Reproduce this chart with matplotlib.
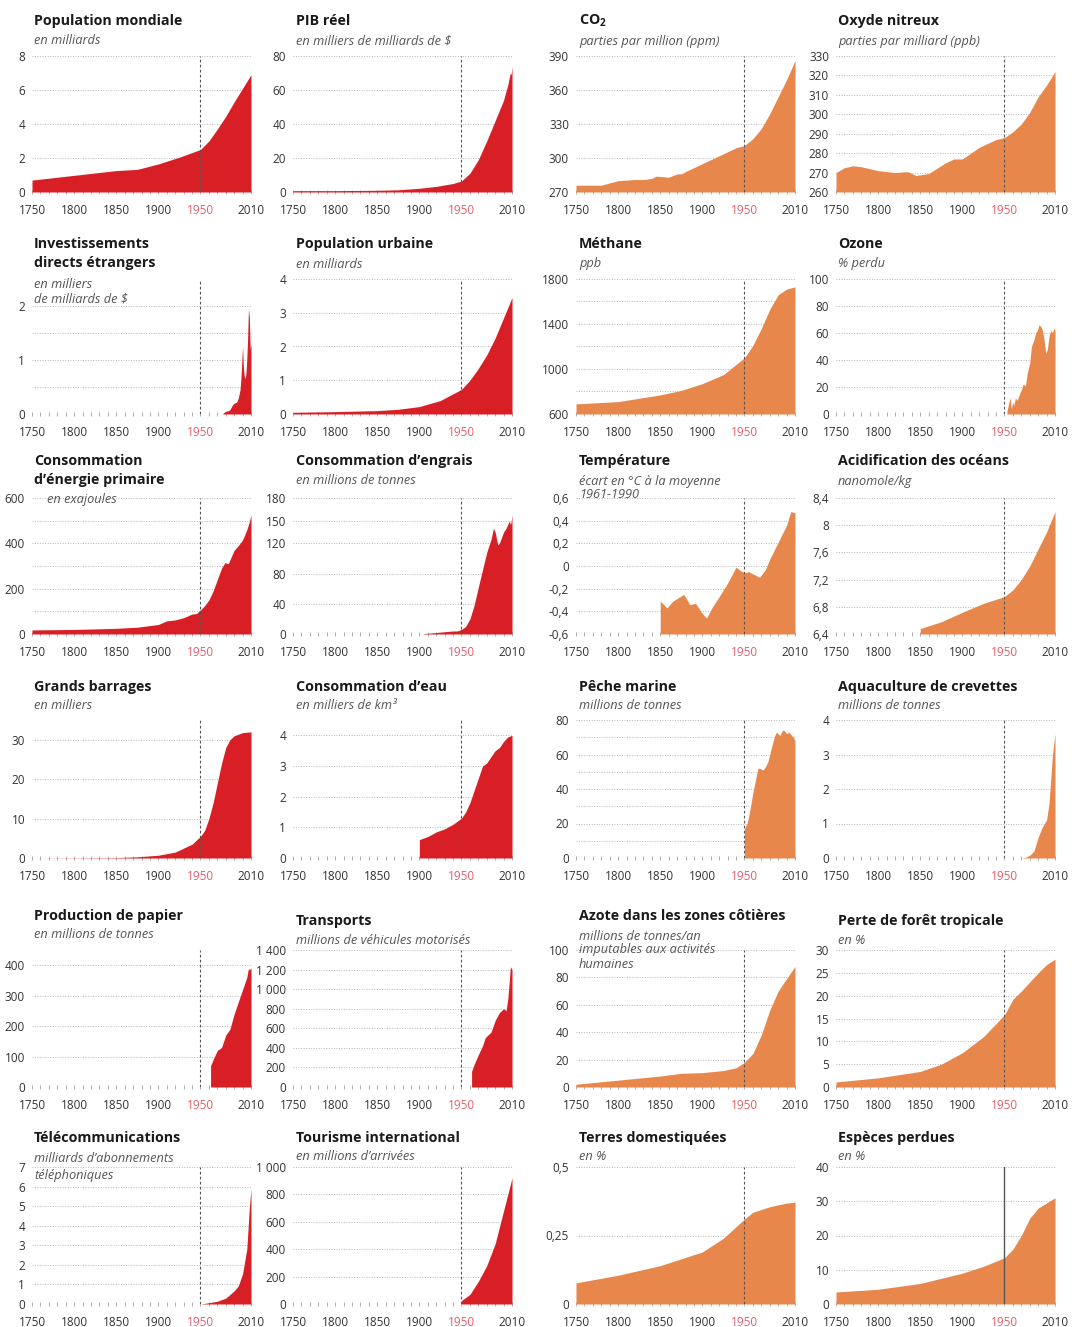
import matplotlib
matplotlib.use("Agg")
import matplotlib.pyplot as plt
import numpy as np

plt.rcParams['font.family'] = ['Open Sans', 'DejaVu Sans']
plt.rcParams['mathtext.default'] = 'regular'

W, H = 1074, 1327
RED = '#d91f26'
ORANGE = '#e8874b'

TICK_YEARS = [1750, 1800, 1850, 1900, 1950, 2010]
TICK_LABELS = ['1750', '1800', '1850', '1900', '1950', '2010']

# ---------------- data ----------------
POP_YEARS = [1750, 1800, 1850, 1875, 1900, 1925, 1950, 1960, 1970, 1980, 1990, 2000, 2010]
POP_VALUES = [0.70, 0.98, 1.26, 1.33, 1.65, 2.05, 2.50, 3.0, 3.7, 4.45, 5.3, 6.1, 6.9]

GDP_YEARS = [1750, 1800, 1850, 1875, 1900, 1920, 1940, 1950, 1960, 1970, 1980, 1990, 2000, 2005, 2008, 2009, 2010]
GDP_VALUES = [0.8, 0.8, 1.0, 1.3, 2.2, 3.3, 5.0, 6.5, 11, 19, 30, 42, 54, 63, 70, 69, 74]

CO2_YEARS = [1750, 1780, 1790, 1800, 1820, 1830, 1840, 1845, 1860, 1870, 1875, 1880, 1900, 1920, 1940, 1950, 1960, 1970, 1980, 1990, 2000, 2010]
CO2_VALUES = [276, 276, 278, 280, 281, 281, 282, 284, 283, 286, 286, 288, 295, 302, 309, 311, 317, 326, 339, 354, 369, 386]

N2O_YEARS = [1750, 1760, 1770, 1780, 1800, 1820, 1835, 1845, 1860, 1880, 1890, 1900, 1910, 1920, 1940, 1950, 1960, 1970, 1980, 1990, 2000, 2010]
N2O_VALUES = [270, 272.5, 273.5, 273, 271, 270, 270.5, 268.5, 269.5, 275, 277, 277, 280, 283, 287, 288, 291, 295, 301, 309, 315, 322]

FDI_YEARS = [1976, 1978, 1980, 1983, 1985, 1988, 1990, 1993, 1995, 1997, 1998, 2000, 2001, 2002, 2003, 2004, 2005, 2006, 2007, 2008, 2009, 2010]
FDI_VALUES = [0.0, 0.03, 0.05, 0.06, 0.08, 0.17, 0.2, 0.22, 0.3, 0.45, 0.65, 1.25, 0.85, 0.7, 0.65, 0.75, 1.0, 1.4, 1.95, 1.8, 1.2, 1.3]

URB_YEARS = [1750, 1800, 1850, 1875, 1900, 1925, 1950, 1960, 1970, 1980, 1990, 2000, 2010]
URB_VALUES = [0.05, 0.07, 0.1, 0.14, 0.22, 0.4, 0.73, 1.0, 1.35, 1.75, 2.25, 2.85, 3.45]

CH4_YEARS = [1750, 1800, 1850, 1875, 1900, 1925, 1950, 1960, 1970, 1980, 1990, 2000, 2010]
CH4_VALUES = [690, 710, 770, 810, 870, 950, 1100, 1210, 1360, 1530, 1660, 1710, 1730]

OZONE_YEARS = [1953, 1955, 1957, 1958, 1960, 1961, 1963, 1965, 1968, 1970, 1972, 1975, 1977, 1980, 1982, 1985, 1987, 1989, 1991, 1993, 1995, 1997, 1999, 2001, 2003, 2005, 2007, 2009, 2010]
OZONE_VALUES = [2, 8, 12, 4, 9, 6, 12, 10, 15, 18, 22, 21, 30, 38, 50, 55, 60, 62, 66, 65, 62, 55, 45, 48, 58, 62, 60, 64, 62]

ENERGY_YEARS = [1750, 1800, 1850, 1875, 1900, 1910, 1920, 1930, 1940, 1945, 1950, 1955, 1960, 1965, 1970, 1975, 1979, 1983, 1990, 1995, 2000, 2005, 2008, 2010]
ENERGY_VALUES = [18, 20, 25, 30, 42, 58, 62, 72, 88, 90, 106, 125, 150, 190, 240, 290, 315, 310, 370, 390, 415, 460, 495, 525]

FERT_YEARS = [1905, 1910, 1920, 1930, 1940, 1945, 1950, 1955, 1960, 1965, 1970, 1975, 1980, 1985, 1988, 1990, 1993, 1995, 2000, 2003, 2005, 2007, 2008, 2009, 2010]
FERT_VALUES = [0.5, 1, 2, 3, 4, 4, 6, 10, 20, 38, 62, 85, 108, 125, 140, 135, 118, 120, 135, 140, 145, 150, 145, 148, 158]

TEMP_YEARS = [1850, 1858, 1865, 1878, 1885, 1892, 1900, 1905, 1912, 1920, 1930, 1940, 1945, 1950, 1955, 1960, 1968, 1975, 1980, 1990, 2000, 2005, 2010]
TEMP_VALUES = [-0.31, -0.37, -0.31, -0.25, -0.34, -0.33, -0.42, -0.46, -0.36, -0.27, -0.15, -0.01, -0.04, -0.06, -0.05, -0.07, -0.10, -0.03, 0.06, 0.21, 0.36, 0.48, 0.47]

ACID_YEARS = [1850, 1875, 1900, 1925, 1950, 1960, 1970, 1980, 1990, 2000, 2010]
ACID_VALUES = [6.48, 6.58, 6.72, 6.85, 6.95, 7.05, 7.2, 7.4, 7.65, 7.9, 8.2]

DAMS_YEARS = [1750, 1850, 1875, 1900, 1920, 1930, 1940, 1950, 1955, 1960, 1965, 1970, 1975, 1980, 1985, 1990, 2000, 2010]
DAMS_VALUES = [0, 0.1, 0.3, 0.7, 1.5, 2.5, 3.5, 5.5, 7, 10, 14, 19, 24, 28, 30, 31, 31.8, 32]

WATER_YEARS = [1900, 1910, 1920, 1930, 1940, 1950, 1955, 1960, 1965, 1970, 1975, 1980, 1985, 1990, 1995, 2000, 2005, 2010]
WATER_VALUES = [0.6, 0.7, 0.85, 0.95, 1.1, 1.3, 1.5, 1.8, 2.2, 2.6, 3.0, 3.1, 3.3, 3.5, 3.6, 3.8, 3.95, 4.0]

FISH_YEARS = [1950, 1953, 1955, 1958, 1960, 1963, 1966, 1968, 1972, 1975, 1978, 1980, 1983, 1986, 1988, 1990, 1992, 1995, 1997, 2000, 2003, 2006, 2008, 2010]
FISH_VALUES = [17, 20, 24, 32, 38, 45, 52, 52, 51, 53, 56, 60, 66, 71, 73, 72, 71, 74, 74, 72, 73, 71, 70, 68]

SHRIMP_YEARS = [1970, 1975, 1980, 1985, 1990, 1995, 2000, 2003, 2005, 2007, 2010]
SHRIMP_VALUES = [0, 0.02, 0.08, 0.2, 0.6, 0.9, 1.1, 1.6, 2.3, 3.0, 3.6]

PAPER_YEARS = [1962, 1965, 1970, 1975, 1980, 1985, 1990, 1995, 2000, 2005, 2007, 2008, 2010]
PAPER_VALUES = [70, 90, 120, 130, 170, 190, 240, 280, 320, 360, 390, 385, 390]

TRANS_YEARS = [1962, 1965, 1970, 1975, 1978, 1980, 1985, 1990, 1995, 2000, 2003, 2005, 2007, 2008, 2010]
TRANS_VALUES = [160, 230, 330, 420, 500, 520, 560, 680, 760, 800, 780, 900, 1100, 1230, 1200]

NITRO_YEARS = [1750, 1800, 1850, 1875, 1900, 1925, 1940, 1950, 1960, 1970, 1980, 1990, 2000, 2010]
NITRO_VALUES = [2, 5, 8, 10, 10.5, 12, 14, 18, 24.5, 38, 56, 70, 79, 88]

FOREST_YEARS = [1750, 1800, 1850, 1875, 1900, 1925, 1950, 1960, 1970, 1980, 1990, 2000, 2010]
FOREST_VALUES = [1.1, 2.0, 3.4, 5.0, 7.5, 11, 15.8, 19.2, 21, 23, 25, 26.8, 28]

TELE_YEARS = [1950, 1955, 1970, 1980, 1990, 1995, 2000, 2005, 2008, 2010]
TELE_VALUES = [0.0, 0.03, 0.14, 0.3, 0.67, 0.93, 1.55, 2.8, 4.9, 5.9]

TOUR_YEARS = [1950, 1960, 1970, 1980, 1990, 2000, 2005, 2010]
TOUR_VALUES = [25, 70, 165, 280, 440, 680, 800, 920]

LAND_YEARS = [1750, 1800, 1850, 1900, 1925, 1950, 1960, 1970, 1980, 1990, 2000, 2010]
LAND_VALUES = [0.077, 0.105, 0.14, 0.19, 0.24, 0.31, 0.335, 0.345, 0.355, 0.362, 0.368, 0.372]

SPEC_YEARS = [1750, 1800, 1850, 1900, 1925, 1950, 1960, 1970, 1980, 1990, 2000, 2010]
SPEC_VALUES = [3.5, 4.3, 6.0, 9.0, 11, 13.5, 16, 20, 25, 28, 29.5, 31]


def lbl(vals):
    out = []
    for v in vals:
        s = f"{v:,.0f}".replace(",", "\u00a0") if abs(v) >= 1000 else f"{v:g}"
        out.append(s.replace(".", ","))
    return out

# title, subtitle lines, years, values, ylim, yticks, ytick labels, grid, colour
PANELS = [
    ("Population mondiale", ["en milliards"], POP_YEARS, POP_VALUES, (0, 8), [0, 2, 4, 6, 8], None, [0, 2, 4, 6, 8], RED),
    ("PIB réel", ["en milliers de milliards de $"], GDP_YEARS, GDP_VALUES, (0, 80), [0, 20, 40, 60, 80], None, [0, 20, 40, 60, 80], RED),
    ("CO$_2$", ["parties par million (ppm)"], CO2_YEARS, CO2_VALUES, (270, 390), [270, 300, 330, 360, 390], None, [270, 300, 330, 360, 390], ORANGE),
    ("Oxyde nitreux", ["parties par milliard (ppb)"], N2O_YEARS, N2O_VALUES, (260, 330), list(range(260, 331, 10)), None, list(range(260, 331, 10)), ORANGE),
    ("Investissements\ndirects étrangers", ["en milliers", "de milliards de $"], FDI_YEARS, FDI_VALUES, (0, 2.5), [0, 1, 2], None, [0, 0.5, 1, 1.5, 2], RED),
    ("Population urbaine", ["en milliards"], URB_YEARS, URB_VALUES, (0, 4), [0, 1, 2, 3, 4], None, [0, 1, 2, 3, 4], RED),
    ("Méthane", ["ppb"], CH4_YEARS, CH4_VALUES, (600, 1800), [600, 1000, 1400, 1800], ["600", "1000", "1400", "1800"], list(range(600, 1801, 200)), ORANGE),
    ("Ozone", ["% perdu"], OZONE_YEARS, OZONE_VALUES, (0, 100), [0, 20, 40, 60, 80, 100], None, [0, 20, 40, 60, 80, 100], ORANGE),
    ("Consommation\nd\u2019énergie primaire", ["en exajoules"], ENERGY_YEARS, ENERGY_VALUES, (0, 600), [0, 200, 400, 600], None, list(range(0, 601, 100)), RED),
    ("Consommation d\u2019engrais", ["en millions de tonnes"], FERT_YEARS, FERT_VALUES, (0, 180), [0, 40, 80, 120, 150, 180], None, [0, 40, 80, 120, 150, 180], RED),
    ("Température", ["écart en °C à la moyenne", "1961-1990"], TEMP_YEARS, TEMP_VALUES, (-0.6, 0.6), [-0.6, -0.4, -0.2, 0, 0.2, 0.4, 0.6], ["-0,6", "-0,4", "-0,2", "0", "0,2", "0,4", "0,6"], [-0.6, -0.4, -0.2, 0, 0.2, 0.4, 0.6], ORANGE),
    ("Acidification des océans", ["nanomole/kg"], ACID_YEARS, ACID_VALUES, (6.4, 8.4), [6.4, 6.8, 7.2, 7.6, 8.0, 8.4], ["6,4", "6,8", "7,2", "7,6", "8", "8,4"], [6.4, 6.8, 7.2, 7.6, 8.0, 8.4], ORANGE),
    ("Grands barrages", ["en milliers"], DAMS_YEARS, DAMS_VALUES, (0, 35), [0, 10, 20, 30], None, [0, 10, 20, 30], RED),
    ("Consommation d\u2019eau", ["en milliers de km³"], WATER_YEARS, WATER_VALUES, (0, 4.5), [0, 1, 2, 3, 4], None, [0, 1, 2, 3, 4], RED),
    ("Pêche marine", ["millions de tonnes"], FISH_YEARS, FISH_VALUES, (0, 80), [0, 20, 40, 60, 80], None, list(range(0, 81, 10)), ORANGE),
    ("Aquaculture de crevettes", ["millions de tonnes"], SHRIMP_YEARS, SHRIMP_VALUES, (0, 4), [0, 1, 2, 3, 4], None, [0, 1, 2, 3, 4], ORANGE),
    ("Production de papier", ["en millions de tonnes"], PAPER_YEARS, PAPER_VALUES, (0, 450), [0, 100, 200, 300, 400], None, [0, 100, 200, 300, 400], RED),
    ("Transports", ["millions de véhicules motorisés"], TRANS_YEARS, TRANS_VALUES, (0, 1400), list(range(0, 1401, 200)), None, list(range(0, 1401, 200)), RED),
    ("Azote dans les zones côtières", ["millions de tonnes/an", "imputables aux activités", "humaines"], NITRO_YEARS, NITRO_VALUES, (0, 100), [0, 20, 40, 60, 80, 100], None, [0, 20, 40, 60, 80, 100], ORANGE),
    ("Perte de forêt tropicale", ["en %"], FOREST_YEARS, FOREST_VALUES, (0, 30), list(range(0, 31, 5)), None, list(range(0, 31, 5)), ORANGE),
    ("Télécommunications", ["milliards d\u2019abonnements", "téléphoniques"], TELE_YEARS, TELE_VALUES, (0, 7), list(range(0, 8)), None, list(range(0, 8)), RED),
    ("Tourisme international", ["en millions d\u2019arrivées"], TOUR_YEARS, TOUR_VALUES, (0, 1000), list(range(0, 1001, 200)), None, list(range(0, 1001, 200)), RED),
    ("Terres domestiquées", ["en %"], LAND_YEARS, LAND_VALUES, (0, 0.5), [0, 0.25, 0.5], ["0", "0,25", "0,5"], [0, 0.25, 0.5], ORANGE),
    ("Espèces perdues", ["en %"], SPEC_YEARS, SPEC_VALUES, (0, 40), [0, 10, 20, 30, 40], None, [0, 10, 20, 30, 40], ORANGE),
]

# ---------------- layout (pixels) ----------------
COL_LEFT = [32, 293, 576, 836]
AX_W = 219
ROWS = [(56, 192), (279, 414), (498, 634), (720, 858), (950, 1087), (1167, 1304)]
TITLE_X = [34, 296, 579, 838]
# title y (first line centre), subtitle first line y, subtitle line step, subtitle x offset
TITLE_POS = [
    (21, 41, 14, 0), (21, 41, 14, 0), (21, 41, 14, 0), (21, 41, 14, 0),
    (244, 284, 15, 0), (244, 264, 14, 0), (244, 264, 14, 0), (244, 264, 14, 0),
    (461, 499, 14, 13), (461, 481, 14, 0), (461, 482, 13, 0), (461, 481, 14, 0),
    (687, 705, 14, 0), (687, 705, 14, 0), (687, 705, 14, 0), (687, 705, 14, 0),
    (916, 935, 14, 0), (921, 941, 14, 0), (916, 936, 14, 0), (921, 941, 14, 0),
    (1138, 1158, 18, 0), (1138, 1157, 14, 0), (1138, 1157, 14, 0), (1138, 1157, 14, 0),
]

fig = plt.figure(figsize=(W / 100, H / 100), dpi=100)
fig.patch.set_facecolor('white')

for i, (title, subs, yrs, vals, ylim, yt, ytl, grid, col) in enumerate(PANELS):
    r, c = divmod(i, 4)
    top, bot = ROWS[r]
    left = COL_LEFT[c]
    ax = fig.add_axes([left / W, 1 - bot / H, AX_W / W, (bot - top) / H])
    ax.set_xlim(1750, 2010)
    ax.set_ylim(*ylim)
    for s in ax.spines.values():
        s.set_visible(False)
    for g in grid:
        ax.axhline(g, color='#b8b8b8', lw=0.7, ls=(0, (1, 1.6)), zorder=1)
    ax.fill_between(yrs, vals, ylim[0], color=col, lw=0, zorder=2)
    if i == 23:
        ax.axvline(1950, color='#555555', lw=1.0, zorder=3)
    else:
        ax.axvline(1950, color='#555555', lw=0.8, ls=(0, (2.5, 2)), zorder=3)

    ax.set_xticks(TICK_YEARS)
    ax.set_xticklabels(TICK_LABELS)
    ax.set_xticks(list(range(1750, 2011, 10)), minor=True)
    ax.tick_params(axis='x', which='both', length=3, width=0.6, color='#a0a0a0',
                   direction='inout', pad=7, labelsize=8.5, labelcolor='#333333')
    for t in ax.get_xticklabels():
        if t.get_text() == '1950':
            t.set_color('#e0606b')
    ax.set_yticks(yt)
    ax.set_yticklabels(ytl if ytl is not None else lbl(yt))
    ax.tick_params(axis='y', length=0, pad=5, labelsize=8.5, labelcolor='#333333')
    ax.set_facecolor('none')

    ty, sy, sdy, sdx = TITLE_POS[i]
    tx = TITLE_X[c]
    for k, line in enumerate(title.split("\n")):
        fig.text(tx / W, 1 - (ty + 19 * k) / H, line, ha='left', va='center',
                 fontsize=10.3, fontweight='bold', color='#1a1a1a')
    for k, line in enumerate(subs):
        fig.text((tx + sdx) / W, 1 - (sy + sdy * k) / H, line, ha='left', va='center',
                 fontsize=9.2, fontstyle='italic', color='#555555')

fig.savefig('out.png', dpi=100, facecolor='white')
